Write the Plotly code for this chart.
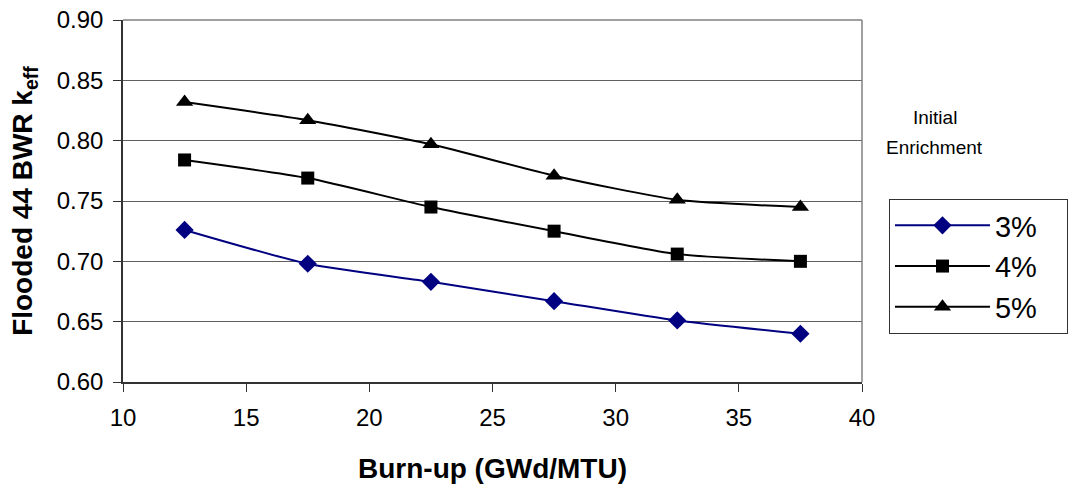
import plotly.graph_objects as go

burnup = [12.5, 17.5, 22.5, 27.5, 32.5, 37.5]
keff_3 = [0.726, 0.698, 0.683, 0.667, 0.651, 0.640]
keff_4 = [0.784, 0.769, 0.745, 0.725, 0.706, 0.700]
keff_5 = [0.832, 0.817, 0.797, 0.771, 0.751, 0.745]
series_names = ["3%", "4%", "5%"]
y_ticks = [0.60, 0.65, 0.70, 0.75, 0.80, 0.85, 0.90]
y_tick_text = ["0.60", "0.65", "0.70", "0.75", "0.80", "0.85", "0.90"]
x_ticks = [10, 15, 20, 25, 30, 35, 40]

FONT = "Liberation Sans, Arial, sans-serif"
PAD = "\u00a0" * 3

fig = go.Figure()
specs = [
    (keff_3, series_names[0], "#000080", "diamond", 14),
    (keff_4, series_names[1], "#000000", "square", 13),
    (keff_5, series_names[2], "#000000", "triangle-up", 15),
]
for vals, name, col, sym, sz in specs:
    fig.add_trace(go.Scatter(
        x=burnup, y=vals, name=name + PAD, mode="lines+markers",
        line=dict(color=col, width=2, shape="spline", smoothing=0.6),
        marker=dict(symbol=sym, size=sz, color=col),
    ))

fig.update_layout(
    width=1072, height=491,
    margin=dict(l=123, r=210, t=20, b=109, autoexpand=False),
    paper_bgcolor="white", plot_bgcolor="white",
    font=dict(family=FONT, color="black", size=24),
    showlegend=True,
    legend=dict(
        x=1.0365, y=0.5055, xanchor="left", yanchor="top",
        bordercolor="#333333", borderwidth=1,
        font=dict(size=29, family=FONT),
        bgcolor="white",
        itemwidth=95,
    ),
    xaxis=dict(
        range=[10, 40], tickvals=x_ticks, automargin=False,
        showgrid=False, zeroline=False,
        showline=True, linecolor="#333333", linewidth=1.5,
        ticks="outside", ticklen=8, tickcolor="#333333",
        tickfont=dict(size=24), ticklabelstandoff=5,
        title=dict(text="<b>Burn-up (GWd/MTU)</b>", font=dict(size=28), standoff=29),
    ),
    yaxis=dict(
        range=[0.60, 0.90], tickvals=y_ticks, ticktext=y_tick_text, automargin=False,
        showgrid=True, gridcolor="#606060", gridwidth=1,
        zeroline=False,
        showline=True, linecolor="#333333", linewidth=1.5,
        ticks="outside", ticklen=8, tickcolor="#333333",
        tickfont=dict(size=24), ticklabelstandoff=5,
        title=dict(text="<b>Flooded 44 BWR k<sub>eff</sub></b>", font=dict(size=28), standoff=16),
    ),
)

# right border of plot area and top gridline
fig.add_shape(type="line", xref="paper", yref="paper", x0=1, x1=1, y0=0, y1=1,
              line=dict(color="#808080", width=1.5))
fig.add_shape(type="line", xref="paper", yref="paper", x0=0, x1=1, y0=1, y1=1,
              line=dict(color="#808080", width=1.5))

fig.add_annotation(
    text="Initial", xref="paper", yref="paper",
    x=1.0988, y=(382 - 117) / 362, xanchor="center", yanchor="middle",
    showarrow=False, font=dict(size=19, family=FONT),
)
fig.add_annotation(
    text="Enrichment", xref="paper", yref="paper",
    x=1.0975, y=(382 - 147) / 362, xanchor="center", yanchor="middle",
    showarrow=False, font=dict(size=19, family=FONT),
)

fig.write_html("out.html", config={"displayModeBar": False},
               post_script="document.body.style.margin='0px';")
